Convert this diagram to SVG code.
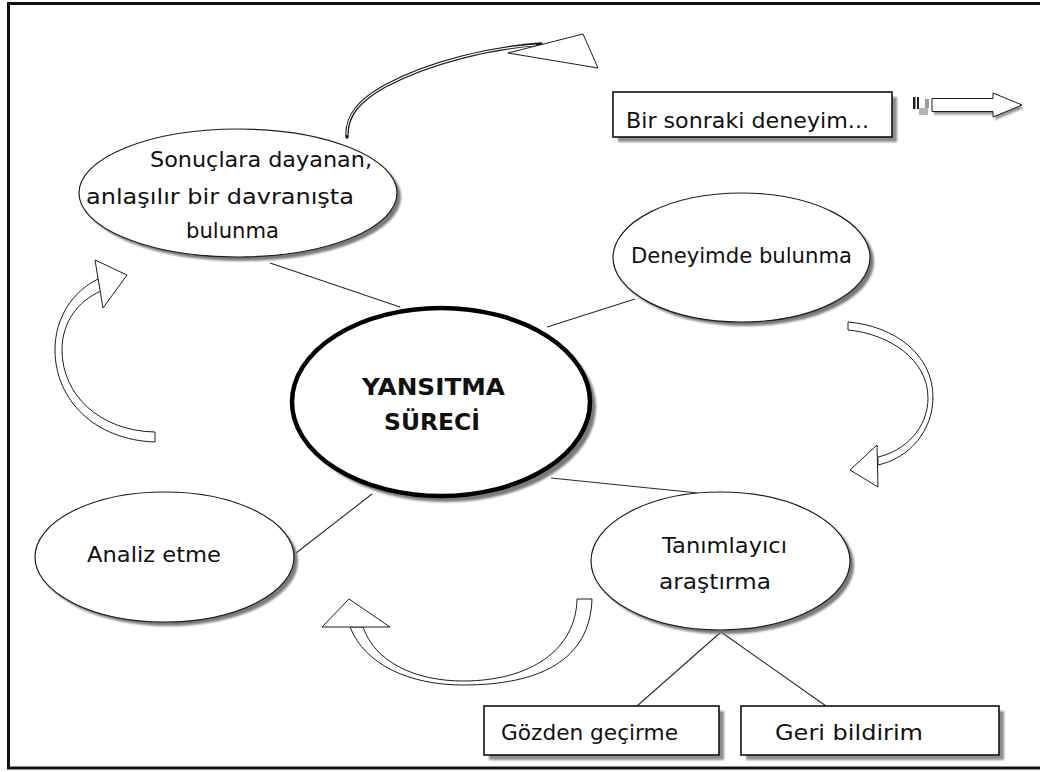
<svg xmlns="http://www.w3.org/2000/svg" width="1040" height="772" viewBox="0 0 1040 772">
  <defs>
    <filter id="soft" x="-10%" y="-10%" width="120%" height="120%">
      <feGaussianBlur stdDeviation="1.3"/>
    </filter>
    <style>
      .frame { fill: #ffffff; stroke: #111; stroke-width: 3; }
      .link { stroke: #2a2a2a; stroke-width: 1.1; fill: none; }
      .bubble { fill: #ffffff; stroke: #1e1e1e; stroke-width: 1.2; }
      .core { fill: #ffffff; stroke: #000; stroke-width: 4.5; }
      .shade { fill: #7a7a7a; filter: url(#soft); }
      .box { fill: #ffffff; stroke: #111; stroke-width: 1.6; }
      .boxshade { fill: #8e8e8e; filter: url(#soft); }
      .flow { fill: #ffffff; stroke: #1e1e1e; stroke-width: 1; stroke-linejoin: round; }
      .lbl { font-family: "DejaVu Sans", "Liberation Sans", sans-serif; font-size: 22px; fill: #111; }
      .lbl-b { font-family: "DejaVu Sans", "Liberation Sans", sans-serif; font-size: 23px; font-weight: bold; fill: #111; }
    </style>
  </defs>

  <!-- page frame -->
  <rect class="frame" x="8.5" y="3.5" width="1040" height="764.5"/>

  <!-- connectors -->
  <g id="connectors">
    <line class="link" x1="270" y1="263" x2="400" y2="307"/>
    <line class="link" x1="635" y1="299" x2="547" y2="327"/>
    <line class="link" x1="372" y1="494" x2="296" y2="553"/>
    <line class="link" x1="551" y1="478" x2="698" y2="493"/>
    <line class="link" x1="721" y1="632" x2="637" y2="706"/>
    <line class="link" x1="721" y1="632" x2="826" y2="706"/>
  </g>

  <!-- cycle arrows -->
  <g id="flow-arrows">
    <!-- top: from the action ellipse toward the next experience -->
    <g id="arrow-top">
      <path d="M347,137 C346,115 360,100 385,86 C430,62 490,48 541,44" fill="none" stroke="#1a1a1a" stroke-width="3.4" stroke-linecap="round"/>
      <path d="M347,135 C346,115 360,100 385,86 C430,62 490,48 536,45" fill="none" stroke="#ffffff" stroke-width="1.1"/>
      <polygon class="flow" points="508,53 583,34 598,68"/>
    </g>
    <!-- small arrow after the next-experience box -->
    <g id="arrow-next">
      <polygon points="934,101.5 995,101.5 995,96 1024,108 995,120 995,114.5 934,114.5" fill="#8f8f8f" filter="url(#soft)"/>
      <polygon class="flow" points="932,98.5 993,98.5 993,93 1022,105 993,117 993,111.5 932,111.5"/>
      <rect x="913" y="97" width="2.5" height="12" fill="#222"/>
      <rect x="917" y="97" width="2" height="12" fill="#222"/>
      <rect x="919" y="108" width="9" height="7" fill="#b5b5b5"/>
      <rect x="925" y="99" width="4" height="9" fill="#9a9a9a"/>
    </g>
    <!-- left: analysis back up to action -->
    <g id="arrow-left">
      <path class="flow" d="M155,442 C95,440 55,400 55,350 C55,318 72,292 98,279 L101,291 C78,301 62,322 62,350 C62,395 100,431 155,432 Z"/>
      <polygon class="flow" points="95,260 127,275 103,308"/>
    </g>
    <!-- right: experience down to descriptive inquiry -->
    <g id="arrow-right">
      <path class="flow" d="M848,322 C895,326 933,355 933,397 C933,430 910,458 878,465 L878,457 C905,451 928,428 928,398 C928,360 890,334 848,330 Z"/>
      <polygon class="flow" points="877,445 850,470 878,487"/>
    </g>
    <!-- bottom: descriptive inquiry to analysis -->
    <g id="arrow-bottom">
      <path class="flow" d="M592,599 C590,660 540,685 463,685 C410,685 365,665 350,627 L363,627 C375,662 415,681 463,681 C530,681 576,650 577,599 Z"/>
      <polygon class="flow" points="322,627 349,599 390,627"/>
    </g>
  </g>

  <!-- nodes -->
  <g id="node-davranis">
    <ellipse class="shade" cx="242" cy="197" rx="159" ry="64"/>
    <ellipse class="bubble" cx="238" cy="193" rx="159" ry="64"/>
    <text class="lbl" x="150" y="167" textLength="222" lengthAdjust="spacingAndGlyphs">Sonuçlara dayanan,</text>
    <text class="lbl" x="86" y="204" textLength="268" lengthAdjust="spacingAndGlyphs">anlaşılır bir davranışta</text>
    <text class="lbl" x="186" y="238" textLength="93" lengthAdjust="spacingAndGlyphs">bulunma</text>
  </g>

  <g id="node-sonraki">
    <rect class="boxshade" x="618" y="97" width="279" height="45"/>
    <rect class="box" x="613" y="92" width="279" height="45"/>
    <text class="lbl" x="626" y="128" textLength="243" lengthAdjust="spacingAndGlyphs">Bir sonraki deneyim...</text>
  </g>

  <g id="node-deneyim">
    <ellipse class="shade" cx="745.5" cy="261.5" rx="128.5" ry="64.5"/>
    <ellipse class="bubble" cx="741.5" cy="257.5" rx="128.5" ry="64.5"/>
    <text class="lbl" x="631" y="263" textLength="221" lengthAdjust="spacingAndGlyphs">Deneyimde bulunma</text>
  </g>

  <g id="node-yansitma">
    <ellipse class="shade" cx="446" cy="407" rx="150" ry="95"/>
    <ellipse class="core" cx="441" cy="402" rx="149" ry="94"/>
    <text class="lbl-b" x="362" y="395" textLength="143" lengthAdjust="spacingAndGlyphs">YANSITMA</text>
    <text class="lbl-b" x="384" y="430" textLength="96" lengthAdjust="spacingAndGlyphs">SÜRECİ</text>
  </g>

  <g id="node-analiz">
    <ellipse class="shade" cx="168.5" cy="561" rx="129.5" ry="65"/>
    <ellipse class="bubble" cx="164.5" cy="557" rx="129.5" ry="65"/>
    <text class="lbl" x="87" y="562" textLength="134" lengthAdjust="spacingAndGlyphs">Analiz etme</text>
  </g>

  <g id="node-tanimlayici">
    <ellipse class="shade" cx="724.5" cy="565" rx="129.5" ry="69"/>
    <ellipse class="bubble" cx="720.5" cy="561" rx="129.5" ry="69"/>
    <text class="lbl" x="662" y="553" textLength="125" lengthAdjust="spacingAndGlyphs">Tanımlayıcı</text>
    <text class="lbl" x="659" y="589" textLength="112" lengthAdjust="spacingAndGlyphs">araştırma</text>
  </g>

  <g id="node-gozden">
    <rect class="boxshade" x="489" y="711" width="235" height="49"/>
    <rect class="box" x="484" y="706" width="235" height="49"/>
    <text class="lbl" x="501" y="740" textLength="177" lengthAdjust="spacingAndGlyphs">Gözden geçirme</text>
  </g>

  <g id="node-geri">
    <rect class="boxshade" x="746" y="711" width="258" height="49"/>
    <rect class="box" x="741" y="706" width="258" height="49"/>
    <text class="lbl" x="775" y="740" textLength="148" lengthAdjust="spacingAndGlyphs">Geri bildirim</text>
  </g>
</svg>
